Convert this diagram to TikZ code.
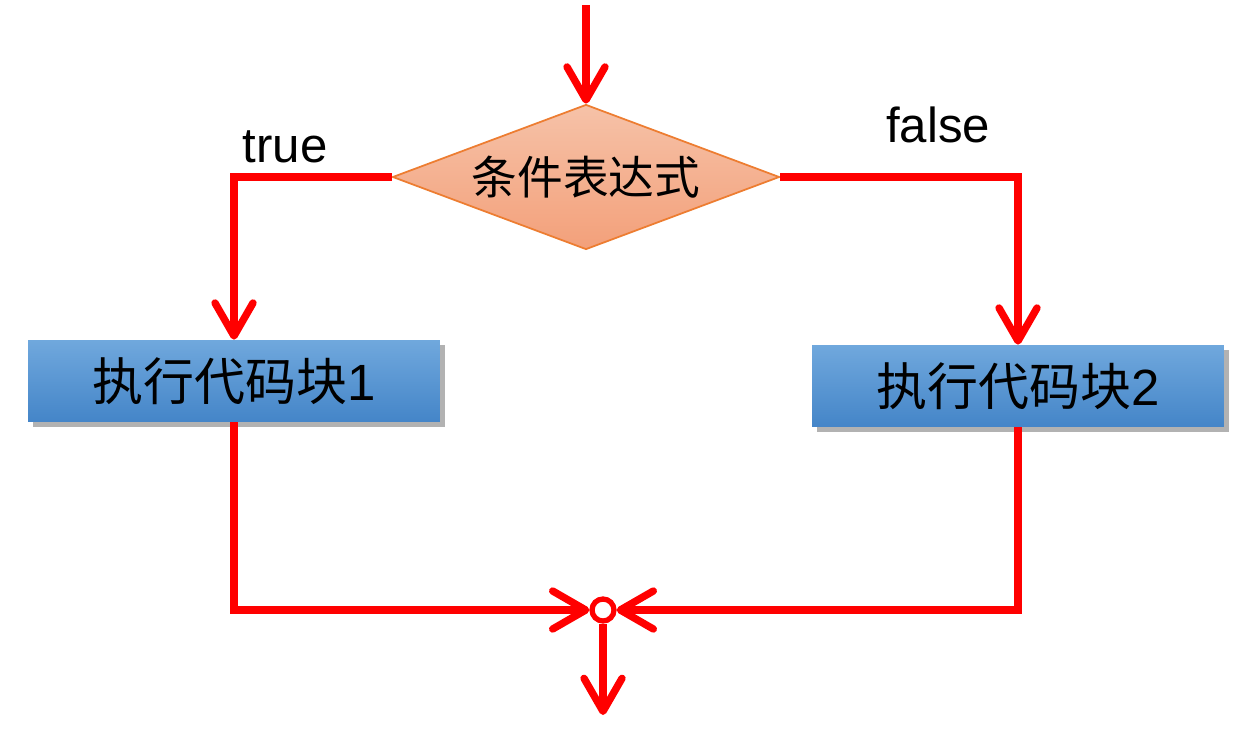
\documentclass[tikz,border=0pt]{standalone}
\usepackage{fontspec}
\setmainfont{Liberation Sans}
\newfontfamily\cjk{Noto Sans CJK SC}
\usetikzlibrary{arrows.meta,shapes.geometric,shadows}
\definecolor{lred}{HTML}{FF0000}
\definecolor{btop}{HTML}{70A8DD}
\definecolor{bbot}{HTML}{4485C8}
\definecolor{dtop}{HTML}{F6C2A8}
\definecolor{dbot}{HTML}{F3A07A}
\definecolor{dline}{HTML}{ED7D31}
\tikzset{
  flow/.style={draw=lred, line width=4.2pt, line join=miter,
    -{Straight Barb[length=0.66cm, width=0.76cm, round]}},
  codebox/.style={rectangle, minimum width=8.24cm, minimum height=1.64cm,
    top color=btop, bottom color=bbot, draw=none,
    drop shadow={shadow xshift=3pt, shadow yshift=-3pt, opacity=0.3, fill=black},
    font=\fontsize{29}{32}\selectfont, inner sep=0pt},
  cond/.style={diamond, minimum width=7.74cm, minimum height=2.9cm, aspect=2.67,
    inner sep=0pt, top color=dtop, bottom color=dbot, draw=dline, line width=1pt,
    font=\fontsize{26}{28}\selectfont},
  junction/.style={circle, draw=lred, line width=3pt, fill=white,
    minimum size=0.44cm, inner sep=0pt},
  lbl/.style={font=\fontsize{28}{30}\selectfont, inner sep=0pt}
}
\begin{document}
\begin{tikzpicture}[x=0.02cm, y=-0.02cm]
\useasboundingbox (0,0) rectangle (1256,730);
\coordinate (start) at (586,5);
\coordinate (finish) at (603,715);
\node[cond] (d) at (586,177) {\raisebox{-0.14em}{\cjk 条件表达式}};
\node[codebox] (b1) at (234,381) {{\cjk 执行代码块}1};
\node[codebox] (b2) at (1018,386) {{\cjk 执行代码块}2};
\node[junction] (j) at (603,610) {};
\node[lbl] (t) at (285,147) {true};
\node[lbl] (f) at (938,125) {false};
\draw[flow] (start) -- (d.north);
\draw[flow] (d.west) -| (b1.north);
\draw[flow] (d.east) -| (b2.north);
\draw[flow] (b1.south) |- (j.west);
\draw[flow] (b2.south) |- (j.east);
\draw[flow] (j.south) -- (finish);
\end{tikzpicture}
\end{document}
